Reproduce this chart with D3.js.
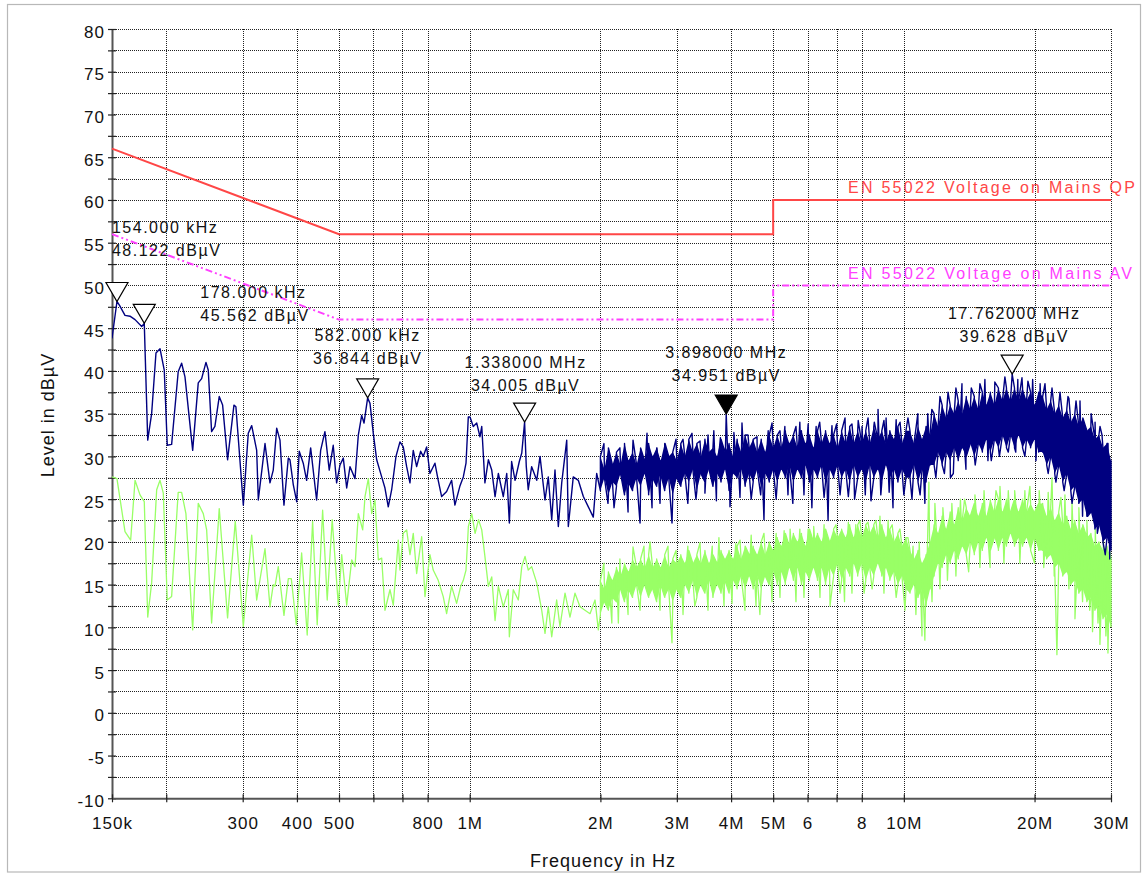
<!DOCTYPE html>
<html>
<head>
<meta charset="utf-8">
<script src="https://cdn.jsdelivr.net/npm/d3@7"></script>
<style>
  body { margin: 0; background: #fff; }
  svg text { font-family: "Liberation Sans", Arial, Helvetica, sans-serif; fill: #111; }
</style>
</head>
<body>
<svg id="chart" width="1144" height="874"></svg>
<script>
// ---------------- axis ticks ----------------
const levelTicks = [-10, -5, 0, 5, 10, 15, 20, 25, 30, 35, 40, 45, 50, 55, 60, 65, 70, 75, 80];
const levelMinor = [-7.5, -2.5, 2.5, 7.5, 12.5, 17.5, 22.5, 27.5, 32.5, 37.5, 42.5, 47.5, 52.5, 57.5, 62.5, 67.5, 72.5, 77.5];
const freqTicks = [150e3, 200e3, 300e3, 400e3, 500e3, 600e3, 700e3, 800e3, 1e6, 2e6, 3e6, 4e6, 5e6, 6e6, 7e6, 8e6, 10e6, 20e6, 30e6];
const freqTickLabels = ["150k", "", "300", "400", "500", "", "", "800", "1M", "2M", "3M", "4M", "5M", "6", "", "8", "10M", "20M", "30M"];

// ---------------- EN 55022 limit lines (Hz, dBµV) ----------------
const qpLimit = [[150e3, 66], [500e3, 56], [5e6, 56], [5e6, 60], [30e6, 60]];
const avLimit = [[150e3, 56], [500e3, 46], [5e6, 46], [5e6, 50], [30e6, 50]];
const qpLimitName = "EN 55022 Voltage on Mains QP";
const avLimitName = "EN 55022 Voltage on Mains AV";

// ---------------- markers (Hz, dBµV) ----------------
const markerFreq  = [154e3, 178e3, 582e3, 1.338e6, 3.898e6, 17.762e6];
const markerLevel = [48.122, 45.562, 36.844, 34.005, 34.951, 39.628];
const markerActive = [false, false, false, false, true, false];

// ---------------- peak scan, 150 kHz .. 2 MHz (kHz, dBµV) ----------------
const peakLow = [
  [150,43.8],[156,47.7],[160.7,46.5],[165,46.4],[169.5,46.0],[175.6,45.2],[181.3,31.9],[185.1,35.0],
  [189.4,42.1],[193.5,42.6],[197.9,40.1],[201.1,31.3],[205.8,31.4],[213.1,39.9],[217,40.9],[220.9,39.3],
  [230.1,30.7],[237,38.6],[241.3,39.1],[246.9,41.0],[249.9,40.1],[254.4,32.9],[258.9,33.5],[264.9,37.0],
  [269.7,36.0],[276.9,29.6],[286.4,36.0],[289.4,35.8],[301,24.3],[309,32.7],[314.7,33.6],[323.1,30.7],
  [325.9,24.9],[337.7,31.5],[346.7,26.9],[352.8,28.4],[359.3,33.3],[365.6,31.9],[373.4,24.3],[382.1,29.8],
  [385.5,29.6],[392.3,26.7],[399.5,24.7],[404.9,30.6],[413.6,29.2],[421.1,27.2],[430.2,31.0],[444,24.9],
  [453.6,30.7],[464,32.9],[474.7,28.4],[484.9,31.3],[493.7,26.9],[502.7,29.0],[511.5,29.8],[520.8,26.3],
  [530,28.8],[544.3,27.4],[553.9,32.5],[563.9,34.8],[570.9,33.9],[589.3,36.2],[599.7,32.7],[610.6,29.6],
  [627,27.6],[638,26.3],[649.3,24.1],[661.1,26.1],[676.4,30.0],[690.8,31.7],[703,31.1],[715.8,28.8],
  [728.4,26.9],[741.3,30.7],[754.7,28.8],[770.9,30.6],[781.6,30.0],[795.8,31.1],[809.8,28.0],[831.6,29.2],
  [846.2,27.2],[861.7,25.3],[884.8,25.9],[908.6,27.2],[924.6,24.3],[949,26.5],[966.7,27.6],[980.6,29.2],
  [992.6,34.6],[1001.6,34.6],[1019,33.5],[1038,33.9],[1056,32.3],[1066,33.5],[1084,26.9],[1104,29.6],
  [1124,28.4],[1144,25.3],[1164,28.0],[1195,25.3],[1217,28.0],[1234,22.2],[1249,29.4],[1272,27.2],
  [1301,29.4],[1318,30.4],[1350,28.8],[1364,26.1],[1389,28.8],[1427,27.2],[1452,30.0],[1491,24.9],
  [1517,27.6],[1545,22.6],[1572,28.4],[1600,21.8],[1629,26.9],[1673,31.9],[1687,21.8],[1732,27.6],
  [1779,27.2],[1827,25.3],[1876,24.1],[1926,22.9],[1961,28.0]
];

// ---------------- average scan, 150 kHz .. 2 MHz (kHz, dBµV) ----------------
const avgLow = [
  [150,27.6],[154,27.4],[160.7,21.2],[165.6,20.2],[169.5,27.2],[174,25.5],[178,24.7],[181.3,11.2],
  [185.1,15.2],[190.1,26.1],[193.5,27.2],[196.9,25.7],[201.1,13.2],[205.8,13.6],[213.1,25.8],[217,25.8],
  [222,23.3],[230.1,9.7],[237,24.5],[243.4,23.3],[247.8,21.4],[254.4,10.5],[264.9,23.9],[276.9,11.1],
  [288.4,22.4],[301,10.1],[314.7,20.8],[323.1,13.2],[337.7,19.2],[346.7,12.4],[352.8,15.0],[356,14.8],
  [362.3,17.1],[373.4,11.4],[382.1,15.7],[388.2,15.7],[398.6,10.3],[410.1,18.7],[422.4,9.1],[434.7,22.4],
  [445.4,10.3],[458.4,23.7],[469.7,13.2],[482.3,22.6],[498.2,12.6],[507.2,18.5],[520.8,12.6],[534.8,17.9],
  [544.3,17.1],[553.9,23.3],[566.9,21.4],[573.9,25.3],[584.1,27.4],[594.6,23.3],[605.1,24.9],[615.8,17.9],
  [627,18.1],[638,12.0],[655.2,14.4],[666.8,12.6],[684.6,20.2],[690.8,16.7],[703,21.0],[715.8,21.4],
  [728.4,18.5],[741.3,21.0],[754.7,16.3],[775.1,20.6],[788.7,13.6],[809.8,18.5],[824.1,16.7],[846.2,15.5],
  [869,13.6],[884.8,11.6],[908.6,14.8],[933,12.8],[953.4,14.8],[966.7,15.5],[980.6,16.7],[993,21.8],
  [1011,23.3],[1029,21.0],[1048,22.6],[1066,21.4],[1084,18.3],[1104,14.8],[1124,15.9],[1144,10.8],
  [1164,14.8],[1195,12.4],[1227,14.4],[1234,8.9],[1260,14.4],[1294,13.2],[1318,17.1],[1341,18.3],
  [1364,16.7],[1389,17.1],[1427,15.2],[1465,12.0],[1491,9.3],[1517,12.4],[1545,8.9],[1586,13.2],
  [1614,10.1],[1658,14.0],[1702,11.2],[1748,14.0],[1795,12.4],[1843,12.0],[1893,11.6],[1944,13.2],
  [1978,9.7]
];

// ---------------- 2 MHz .. 30 MHz: log sweep, dense body of each trace per display bin (dBµV) ----------------
const sweepStartHz = 2e6, sweepStopHz = 30e6;
const peakBodyMin = [
  26,27.5,25.5,27,26.5,28,25.5,27,26,27.5, 26.5,28,25.5,27.5,26.5,28,26,27.5,25.5,27.5,
  26.5,28,27,28.5,26,28,27,28.5,26.5,28, 27,28.5,26,28,27.5,28.5,26.5,28,27,28.5, 26.5,28,27,28.5,
  27,28.5,27.5,29,27,28.5,27.5,29,27,28.5, 27.5,29,27,28.5,27.5,29,27.5,28.5,27,29,
  27.5,28.5,27,29,27.5,28.5,27,29,27.5,28.5, 27,28.5,27.5,
  27.5,29,27,28.5,27,29,
  29,30.5,29,30.5,29.5,31,29.5,31,30,31.5, 30,31.5,30.5,32,30.5,32,31,32.5,31,32.5, 31,32.5,31,32,31,32,30.5,
  30.5,29,30,28,29,27,28,26,26.5,24.5, 25,23,23.5,21.5,22,20,20.5,19
];
const peakBodyMax = [
  30,28.5,31,29,30.5,29,31.5,29.5,30.5,29, 31,29.5,31.5,30,31,29.5,31.5,30,30.5,29.5,
  31.5,30,32,30.5,31.5,30,32,30.5,31,30, 32,30.5,31.5,30,32,30.5,32.5,31,32,30.5, 32,30.5,32.5,31,
  32.5,31,33,31.5,32.5,31,33,31.5,32.5,31, 33,31.5,33,31.5,32.5,31,33,31.5,33.5,31.5,
  33,31.5,33,31.5,33.5,32,33,31.5,33,32, 33.5,31.5,33,
  33,31.5,33.5,32,33.5,32.5,
  35,33.5,36,34.5,36,35,36.5,35,37,35.5, 37,35.5,37.5,36,37.5,36,38,36.5,38,36.5, 38,36.5,38,36.5,37.5,36,37.5,
  37,35.5,36.5,35,36,34.5,35.5,34,35,33.5, 34.5,33,33.5,32,32.5,31,31.5,29.5
];
const avgBodyMin = [
  11.5,13,12,13.5,13,14.5,13,14.5,13.5,15, 13.5,15,13.5,14.5,13,15,13.5,14.5,13,14.5,
  13.5,15,14,15.5,13.5,15,14,15.5,13.5,15, 14,15.5,14,15.5,14.5,16,14.5,16,14.5,16, 14.5,16,15,16.5,
  15,16.5,15,17,15.5,17,15,16.5,15.5,17, 15.5,17,15,17,16,17.5,15.5,17,16,17.5,
  16,17.5,15.5,17,16,17.5,16,17,15.5,16.5, 15,16,14.5,
  14,15,13.5,14.5,12.5,14.5,
  16,17.5,17,18.5,17.5,19,18,19.5,18.5,20, 18.5,20,19,20.5,19,20.5,19,20.5,19.5,21, 19.5,20.5,19.5,20.5,19,20.5,19,
  19,18,18.5,17,17.5,16,16.5,15,15.5,14, 14.5,13,13.5,12,12.5,11,11.5,10
];
const avgBodyMax = [
  15.5,14.5,16.5,15.5,17,16,17.5,16.5,18,17, 18,17,18.5,17,18,17,18.5,17,18,17.5,
  18.5,17.5,19,17.5,18.5,17.5,19,17.5,18.5,17.5, 19,18,19,18,19.5,18,19.5,18.5,19.5,18.5, 20,18.5,20,19,
  20.5,19.5,21,19.5,21,20,21,19.5,21.5,20, 21,20,21.5,20,21.5,20.5,21.5,20.5,22,20.5,
  22,20.5,22,21,22,20.5,22,20.5,21.5,20, 21,19.5,20.5,
  19,18,19,17.5,18.5,20,
  22,21,23,21.5,23.5,22,24,22.5,24,23, 24.5,23,24.5,23,25,23.5,25,23.5,25,23.5, 25,23.5,25,23.5,24.5,23.5,24.5,
  24.5,23,24,22.5,23.5,22,23,21.5,22.5,21, 22,20.5,21,19.5,20,19,19.5,18
];
// isolated excursions outside the dense body (MHz, dBµV)
const peakSpikes = [
  [2.038,31.5],[2.082,24.5],[2.15,24],[2.218,31],[2.316,23.5],[2.378,31.9],[2.468,22.2],[2.561,32.7],
  [2.63,24],[2.70,31],[2.744,24.5],[2.818,31.5],[2.924,22.2],[2.987,32],[3.10,32],[3.18,24.5],
  [3.251,32.7],[3.32,25],[3.392,31.8],[3.482,25.7],[3.539,32.5],[3.65,33],[3.70,24.8],[3.78,32.2],
  [3.977,24.1],[4.06,32.8],[4.193,25.2],[4.238,33.9],[4.375,32.5],[4.45,25],[4.59,32.3],[4.68,25.5],
  [4.762,22.6],[4.87,33],[4.97,33.9],[5.08,25],[5.184,33],[5.32,33.5],[5.409,25.5],[5.55,24.5],
  [5.643,33.5],[5.76,34],[5.888,25.5],[6.02,33.8],[6.14,24],[6.28,33.5],[6.40,34],[6.55,25.2],
  [6.69,22.5],[6.83,33.6],[7.00,33.8],[7.13,25.5],[7.32,34.5],[7.45,25.3],[7.594,33.8],[7.70,25],
  [7.85,34.2],[8.01,33.5],[8.15,25.5],[8.27,34.5],[8.40,24.8],[8.55,34],[8.72,35.5],[8.85,25.5],
  [8.998,34.2],[9.10,34.5],[9.25,25.8],[9.44,24],[9.60,34.3],[9.80,34],[10.0,25.5],[10.22,34.5],
  [10.44,25],[10.77,35],[10.9,25.5],[11.18,24.5],[11.35,35],[11.6,35.5],[11.85,27.5],[12.11,37],
  [12.4,28],[12.64,37.5],[12.8,27.5],[13.0,28],[13.18,38],[13.61,38.5],[13.9,28.5],[14.3,38],
  [14.6,29],[14.97,38.5],[15.37,39],[15.62,29.5],[15.9,29.5],[16.2,38.7],[16.6,30],[17.09,39.3],
  [17.4,30.5],[18.1,30.5],[18.3,39],[18.71,39.2],[19.0,30],[19.31,38.8],[19.8,39],[20.15,29.5],
  [20.6,38.5],[21.14,38.5],[21.5,28],[21.94,38],[22.4,27],[22.89,37.5],[23.4,26],[23.88,37],
  [24.0,36.8],[24.4,24.5],[24.92,36.5],[25.45,36.5],[25.8,23],[26.5,23],[27.0,35],[27.57,34],
  [27.9,21],[28.3,33.5],[28.6,32.5],[29.1,18.5],[29.53,31.5],[29.8,18]
];
const avgSpikes = [
  [2.038,17.5],[2.125,10.5],[2.2,10.5],[2.218,18],[2.316,11.5],[2.378,19.4],[2.468,12],[2.52,19.5],
  [2.602,20],[2.744,12],[2.862,19.5],[2.924,8.2],[2.987,19],[3.1,11.5],[3.18,19.5],[3.30,12.5],
  [3.392,19.9],[3.539,12],[3.62,19.5],[3.75,20.5],[3.853,12.5],[4.02,12.8],[4.1,19.8],[4.193,20.2],
  [4.306,12],[4.45,20.8],[4.565,12.5],[4.66,11.5],[4.762,21],[4.969,13],[5.08,21],[5.184,13.5],
  [5.3,21.3],[5.47,21.5],[5.643,13],[5.76,21.5],[5.888,13.5],[6.02,21.5],[6.2,21.8],[6.409,13.5],
  [6.55,22],[6.76,12.5],[6.976,22],[7.13,14],[7.3,13],[7.45,22.3],[7.594,14],[7.75,22],
  [7.92,22.5],[8.1,14],[8.266,22.3],[8.45,14.5],[8.623,22.5],[8.81,23],[8.998,14],[9.2,22.5],
  [9.4,22],[9.6,13.5],[9.795,21.5],[10.06,12],[10.22,20.5],[10.5,19.5],[10.66,11.5],[10.85,20],
  [11.01,9],[11.18,8.5],[11.42,27],[11.61,13],[11.79,24.5],[12.11,14.5],[12.3,24],[12.6,15.5],
  [12.9,24.5],[13.18,16],[13.5,25],[13.8,25],[14.1,16.5],[14.58,25.5],[14.97,17],[15.3,26],
  [15.8,17],[16.3,26],[16.65,26.5],[17.0,17.5],[17.4,26],[18.0,26],[18.5,17.5],[19.0,26],
  [19.51,26.5],[20.0,17.5],[20.5,26],[21.0,17],[21.5,25.8],[21.94,27.5],[22.2,16],[22.52,6.8],
  [23.0,25.2],[23.5,25.5],[24.0,14.5],[24.4,24.5],[24.78,11],[25.3,24],[25.8,13],[26.4,22.5],
  [26.8,12],[27.2,9.5],[27.6,21.5],[28.0,10.5],[28.29,8],[28.8,20.5],[29.2,9],[29.52,7],[29.8,19]
];

// ---------------- layout ----------------
const plot = { left: 112, right: 1111, top: 29, bottom: 798.3 };
const colors = { peak: "#000080", avg: "#99ff66", qp: "#ff4646", av: "#ff40ff", axis: "#555", grid: "#222" };

const svg = d3.select("#chart");
const x = d3.scaleLog().domain([150e3, 30e6]).range([plot.left, plot.right]);
const y = d3.scaleLinear().domain([-10, 80]).range([plot.bottom, plot.top]);

// outer frame
svg.append("rect").attr("x", 7.5).attr("y", 4.5).attr("width", 1133).attr("height", 867.5)
  .attr("fill", "none").attr("stroke", "#b8b8b8").attr("stroke-width", 1.2);

// dotted grid
const grid = svg.append("g").attr("stroke", colors.grid).attr("stroke-width", 1)
  .attr("stroke-dasharray", "1,1").attr("shape-rendering", "crispEdges");
grid.selectAll("line.h").data(levelTicks.concat(levelMinor)).join("line")
  .attr("x1", plot.left).attr("x2", plot.right)
  .attr("y1", d => Math.round(y(d)) + 0.5).attr("y2", d => Math.round(y(d)) + 0.5);
grid.selectAll("line.v").data(freqTicks.slice(1)).join("line")
  .attr("y1", plot.top).attr("y2", plot.bottom)
  .attr("x1", d => Math.round(x(d)) + 0.5).attr("x2", d => Math.round(x(d)) + 0.5);

// axes
const yAxis = d3.axisLeft(y).tickValues(levelTicks.concat(levelMinor)).tickSize(0)
  .tickFormat(d => levelTicks.includes(d) ? d : "");
const gy = svg.append("g").attr("transform", `translate(${plot.left},0)`).call(yAxis);
gy.select(".domain").attr("stroke", colors.axis).attr("stroke-width", 2);
gy.selectAll(".tick line").attr("x1", -4).attr("x2", 4).attr("stroke", "#222").attr("stroke-width", 1.2);
gy.selectAll(".tick text").attr("x", -7).attr("dy", "8px").attr("font-size", 17)
  .attr("letter-spacing", 1).attr("fill", "#111").style("font-family", '"Liberation Sans", Arial, sans-serif');

const xAxis = d3.axisBottom(x).tickValues(freqTicks).tickSize(0)
  .tickFormat((d, i) => freqTickLabels[i]);
const gx = svg.append("g").attr("transform", `translate(0,${plot.bottom})`).call(xAxis);
gx.select(".domain").attr("stroke", colors.axis).attr("stroke-width", 2);
gx.selectAll(".tick line").attr("y1", -4).attr("y2", 4).attr("stroke", "#222").attr("stroke-width", 1.2);
gx.selectAll(".tick text").attr("y", 31).attr("dy", 0).attr("font-size", 17)
  .attr("letter-spacing", 1).attr("fill", "#111").style("font-family", '"Liberation Sans", Arial, sans-serif');

// axis titles
svg.append("text").attr("x", 603).attr("y", 867).attr("text-anchor", "middle")
  .attr("font-size", 18).attr("letter-spacing", 1).text("Frequency in Hz");
svg.append("text").attr("transform", "translate(54,415) rotate(-90)").attr("text-anchor", "middle")
  .attr("font-size", 18).attr("letter-spacing", 1).text("Level in dBµV");

// clip region for traces
svg.append("clipPath").attr("id", "plotClip").append("rect")
  .attr("x", plot.left).attr("y", plot.top - 2)
  .attr("width", plot.right - plot.left + 1).attr("height", plot.bottom - plot.top + 2);

const line = d3.line().x(d => x(d[0])).y(d => y(d[1]));

// limit lines
svg.append("path").datum(qpLimit).attr("d", line).attr("fill", "none")
  .attr("stroke", colors.qp).attr("stroke-width", 2);
svg.append("path").datum(avLimit).attr("d", line).attr("fill", "none")
  .attr("stroke", colors.av).attr("stroke-width", 2).attr("stroke-dasharray", "7,3,2,3,2,3");

const markers = markerFreq.map((f, i) => ({ f, level: markerLevel[i], active: markerActive[i] }));

// sweep bins: frequency of bin i on the logarithmic sweep
function sweepBins(bodyMin, bodyMax) {
  const n = bodyMin.length;
  return bodyMin.map((lo, i) => ({
    f: sweepStartHz * Math.pow(sweepStopHz / sweepStartHz, i / (n - 1)), lo, hi: bodyMax[i]
  }));
}
// full trace: low-band points, body zig-zag, spikes and marker readings, ordered by frequency
function buildTrace(lowPts, bins, spikes, withMarkers) {
  const pts = lowPts.map(d => [d[0] * 1e3, d[1]]);
  bins.forEach((b, i) => i % 2 ? pts.push([b.f, b.hi], [b.f, b.lo]) : pts.push([b.f, b.lo], [b.f, b.hi]));
  spikes.forEach(s => pts.push([s[0] * 1e6, s[1]]));
  if (withMarkers) markers.forEach(m => pts.push([m.f, m.level]));
  return pts.map((p, k) => [p[0], p[1], k]).sort((a, b) => a[0] - b[0] || a[2] - b[2]);
}

const bodyArea = d3.area().x(d => x(d.f)).y0(d => y(d.lo)).y1(d => y(d.hi));
const traces = svg.append("g").attr("clip-path", "url(#plotClip)");

function drawTrace(lowPts, bodyMin, bodyMax, spikes, withMarkers, color, width) {
  const bins = sweepBins(bodyMin, bodyMax);
  traces.append("path").datum(bins).attr("d", bodyArea).attr("fill", color);
  traces.append("path").datum(buildTrace(lowPts, bins, spikes, withMarkers)).attr("d", line)
    .attr("fill", "none").attr("stroke", color).attr("stroke-width", width).attr("stroke-linejoin", "round");
}
drawTrace(avgLow, avgBodyMin, avgBodyMax, avgSpikes, false, colors.avg, 1.3);
drawTrace(peakLow, peakBodyMin, peakBodyMax, peakSpikes, true, colors.peak, 1.4);

// limit line names
svg.append("text").attr("x", 848).attr("y", 193).attr("font-size", 16)
  .attr("textLength", 287).attr("lengthAdjust", "spacing").style("fill", colors.qp).text(qpLimitName);
svg.append("text").attr("x", 848).attr("y", 279).attr("font-size", 16)
  .attr("textLength", 284).attr("lengthAdjust", "spacing").style("fill", colors.av).text(avLimitName);

// marker triangles and readouts
const labelPlacement = [
  { anchor: "start", dx: -5, dy: -45.5 },
  { anchor: "start", dx: 56, dy: -2.5 },
  { anchor: "middle", dx: 0, dy: -34 },
  { anchor: "middle", dx: 1, dy: -31 },
  { anchor: "middle", dx: 0, dy: -33 },
  { anchor: "middle", dx: 2, dy: -32.5 }
];
const fmtFreq = f => f < 1e6 ? (f / 1e3).toFixed(3) + " kHz" : (f / 1e6).toFixed(6) + " MHz";
const fmtLevel = v => v.toFixed(3) + " dBµV";

const mg = svg.append("g");
markers.forEach((m, i) => {
  const cx = x(m.f), ty = y(m.level);
  mg.append("path")
    .attr("d", `M${cx - 11},${ty - 19}L${cx + 11},${ty - 19}L${cx},${ty}Z`)
    .attr("fill", m.active ? "#000" : "#fff").attr("stroke", "#000").attr("stroke-width", 1.2);
  const p = labelPlacement[i];
  const t = mg.append("text").attr("text-anchor", p.anchor).attr("font-size", 16).attr("letter-spacing", 1.5);
  t.append("tspan").attr("x", cx + p.dx).attr("y", ty + p.dy - 23).text(fmtFreq(m.f));
  t.append("tspan").attr("x", cx + p.dx).attr("y", ty + p.dy).text(fmtLevel(m.level));
});
</script>
</body>
</html>
